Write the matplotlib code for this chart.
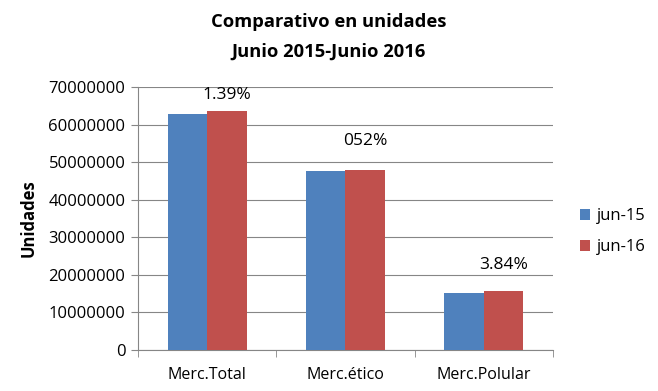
import numpy as np
import matplotlib.pyplot as plt

# data
categories = ["Merc.Total", "Merc.ético", "Merc.Polular"]
jun15 = [62800000, 47650000, 15200000]
jun16 = [63700000, 47900000, 15780000]
labels = ["1.39%", "052%", "3.84%"]
label_y = [68000000, 55700000, 22600000]

plt.rcParams["font.family"] = ["Open Sans", "DejaVu Sans"]

fig = plt.figure(figsize=(6.58, 3.91), dpi=100)
ax = fig.add_axes([0.2097, 0.1049, 0.6307, 0.6726])

x = np.arange(len(categories))
w = 0.286
ax.bar(x - w / 2, jun15, w, color="#4F81BD", label="jun-15", zorder=3)
ax.bar(x + w / 2, jun16, w, color="#C0504D", label="jun-16", zorder=3)

for xi, lab, ly in zip(x, labels, label_y):
    ax.text(xi + w / 2, ly, lab, ha="center", va="center", fontsize=12.5)

ax.set_xlim(-0.5, 2.5)
ax.set_ylim(0, 70000000)
ax.set_yticks(range(0, 70000001, 10000000))
ax.set_yticklabels([str(v) for v in range(0, 70000001, 10000000)], fontsize=12)
ax.set_xticks(x)
ax.set_xticklabels(categories, fontsize=11.5)
ax.set_xticks([-0.5, 0.5, 1.5, 2.5], minor=True)
ax.tick_params(axis="x", which="major", length=0, pad=12)
ax.tick_params(axis="x", which="minor", length=5, color="#868686")
ax.tick_params(axis="y", length=5, color="#868686", pad=4)
ax.grid(axis="y", color="#868686", linewidth=0.8, zorder=0)
for s in ["top", "right"]:
    ax.spines[s].set_visible(False)
for s in ["left", "bottom"]:
    ax.spines[s].set_color("#868686")

ax.set_ylabel("Unidades", fontsize=12, fontweight="bold", labelpad=8)
fig.suptitle("Comparativo en unidades\nJunio 2015-Junio 2016", x=0.5, y=0.966,
             fontsize=13.2, fontweight="bold", linespacing=1.8)

ax.legend(loc="center left", bbox_to_anchor=(1.03, 0.45), frameon=False,
          fontsize=12, handlelength=0.6, handleheight=0.6, labelspacing=0.9,
          handletextpad=0.4)

fig.savefig("out.png", dpi=100)
